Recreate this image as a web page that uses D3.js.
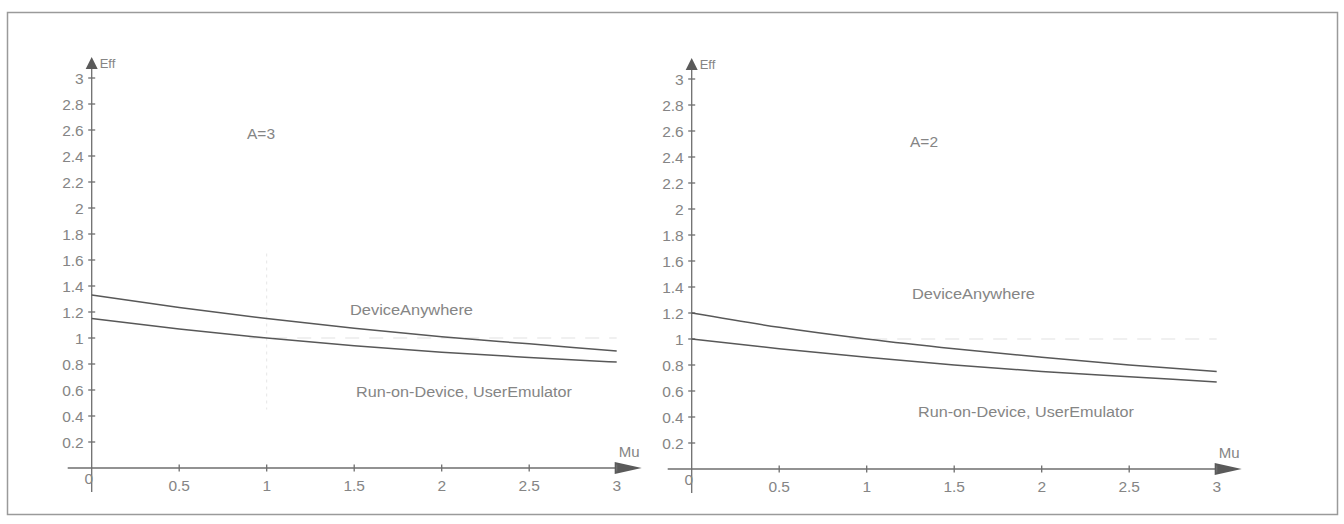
<!DOCTYPE html>
<html>
<head>
<meta charset="utf-8">
<script src="https://cdn.jsdelivr.net/npm/d3@7"></script>
<style>
  body { margin: 0; background: #fff; }
  svg { display: block; }
  text { font-family: "Liberation Sans", Arial, sans-serif; fill: #858585; }
</style>
</head>
<body>
<div id="chart"></div>
<script>
// Data
const mu = [0, 0.5, 1, 1.5, 2, 2.5, 3];
const yTicks = [0.2, 0.4, 0.6, 0.8, 1, 1.2, 1.4, 1.6, 1.8, 2, 2.2, 2.4, 2.6, 2.8, 3];
const xTicks = [0.5, 1, 1.5, 2, 2.5, 3];

// A=3 panel
const effDeviceA3 = [1.33, 1.235, 1.15, 1.075, 1.01, 0.955, 0.9];
const effRunA3 = [1.15, 1.07, 1.0, 0.94, 0.89, 0.85, 0.815];
// A=2 panel
const effDeviceA2 = [1.2, 1.09, 1.0, 0.925, 0.86, 0.80, 0.75];
const effRunA2 = [1.0, 0.925, 0.86, 0.80, 0.75, 0.71, 0.67];

const panels = [
    { title: "A=3", offset: 0, y0: 468, y3: 78, device: effDeviceA3, run: effRunA3,
      titlePos: [247, 139], devPos: [350, 315], runPos: [356, 397], faint: true },
    { title: "A=2", offset: 600, y0: 469, y3: 79, device: effDeviceA2, run: effRunA2,
      titlePos: [910, 147], devPos: [912, 299], runPos: [918, 417], faint: false },
];

const width = 1344;
const height = 524;

const svg = d3.select("#chart")
    .append("svg")
    .attr("width", width)
    .attr("height", height);

// Outer frame
svg.append("rect")
    .attr("x", 7.5).attr("y", 12.5)
    .attr("width", 1330).attr("height", 502)
    .attr("fill", "none")
    .attr("stroke", "#9a9a9a")
    .attr("stroke-width", 1.5);

const axisColor = "#6e6e6e";
const lineColor = "#585858";

panels.forEach((p) => {
    const x = d3.scaleLinear().domain([0, 3]).range([91.7 + p.offset, 616.7 + p.offset]);
    const y = d3.scaleLinear().domain([0, 3]).range([p.y0, p.y3]);
    const g = svg.append("g");

    // faint scan-like reference dashes at Eff = 1
    g.append("line")
        .attr("x1", x(0.9)).attr("x2", x(3))
        .attr("y1", y(1)).attr("y2", y(1))
        .attr("stroke", "#e2e2e2")
        .attr("stroke-width", 1.2)
        .attr("stroke-dasharray", "14,10");
    if (p.faint) {
        g.append("line")
            .attr("x1", x(1)).attr("x2", x(1))
            .attr("y1", y(1.65)).attr("y2", y(0.45))
            .attr("stroke", "#e6e6e6")
            .attr("stroke-dasharray", "3,4");
    }

    // Y axis
    g.append("line")
        .attr("x1", x(0)).attr("x2", x(0))
        .attr("y1", y(0) + 24).attr("y2", y(3) - 12)
        .attr("stroke", axisColor).attr("stroke-width", 1.3);
    g.append("path")
        .attr("d", `M${x(0)},${y(3) - 21} L${x(0) + 6},${y(3) - 9} L${x(0) - 6},${y(3) - 9} Z`)
        .attr("fill", "#5a5a5a");
    g.append("text")
        .attr("x", x(0) + 8).attr("y", y(3) - 10)
        .attr("font-size", 13)
        .text("Eff");

    // X axis
    g.append("line")
        .attr("x1", x(0) - 24).attr("x2", x(3) + 2)
        .attr("y1", y(0)).attr("y2", y(0))
        .attr("stroke", axisColor).attr("stroke-width", 1.3);
    g.append("path")
        .attr("d", `M${x(3) + 25},${y(0)} L${x(3) - 2},${y(0) - 6} L${x(3) - 2},${y(0) + 6} Z`)
        .attr("fill", "#5a5a5a");
    g.append("text")
        .attr("x", x(3) + 2).attr("y", y(0) - 11)
        .attr("font-size", 15)
        .text("Mu");

    // Y ticks
    const yt = g.append("g").selectAll("g").data(yTicks).enter().append("g");
    yt.append("line")
        .attr("x1", x(0) - 3.5).attr("x2", x(0) + 3.5)
        .attr("y1", (d) => y(d)).attr("y2", (d) => y(d))
        .attr("stroke", axisColor).attr("stroke-width", 1.3);
    yt.append("text")
        .attr("x", x(0) - 8).attr("y", (d) => y(d) + 5.5)
        .attr("text-anchor", "end")
        .attr("font-size", 15.5)
        .text((d) => d3.format("~g")(d));

    // X ticks
    const xt = g.append("g").selectAll("g").data(xTicks).enter().append("g");
    xt.append("line")
        .attr("x1", (d) => x(d)).attr("x2", (d) => x(d))
        .attr("y1", y(0) - 3.5).attr("y2", y(0) + 3.5)
        .attr("stroke", axisColor).attr("stroke-width", 1.3);
    xt.append("text")
        .attr("x", (d) => x(d)).attr("y", y(0) + 23)
        .attr("text-anchor", "middle")
        .attr("font-size", 15.5)
        .text((d) => d3.format("~g")(d));
    g.append("text")
        .attr("x", x(0) + 1.5).attr("y", y(0) + 16)
        .attr("text-anchor", "end")
        .attr("font-size", 15.5)
        .text("0");

    // Curves
    const line = d3.line()
        .x((d, i) => x(mu[i]))
        .y((d) => y(d))
        .curve(d3.curveMonotoneX);
    [p.device, p.run].forEach((s) => {
        g.append("path")
            .attr("d", line(s))
            .attr("fill", "none")
            .attr("stroke", lineColor)
            .attr("stroke-width", 1.5);
    });

    // Annotations
    g.append("text")
        .attr("x", p.titlePos[0]).attr("y", p.titlePos[1])
        .attr("font-size", 15.5)
        .text(p.title);
    g.append("text")
        .attr("x", p.devPos[0]).attr("y", p.devPos[1])
        .attr("font-size", 15.5)
        .attr("textLength", 123)
        .attr("lengthAdjust", "spacingAndGlyphs")
        .text("DeviceAnywhere");
    g.append("text")
        .attr("x", p.runPos[0]).attr("y", p.runPos[1])
        .attr("font-size", 15.5)
        .attr("textLength", 216)
        .attr("lengthAdjust", "spacingAndGlyphs")
        .text("Run-on-Device, UserEmulator");
});
</script>
</body>
</html>
